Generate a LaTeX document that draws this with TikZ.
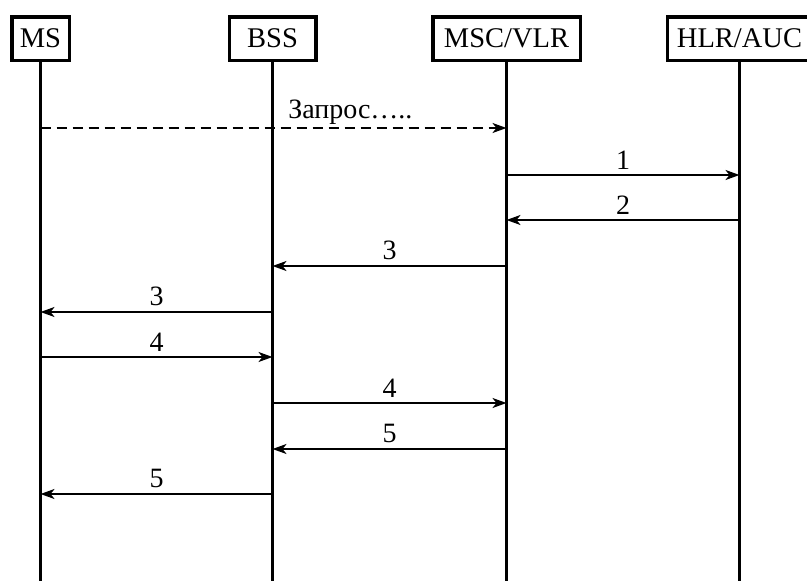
\documentclass[tikz,border=0pt]{standalone}
\usepackage{fontspec}
\setmainfont{Liberation Serif}
\usetikzlibrary{arrows.meta, positioning}
\tikzstyle{actor}    = [rectangle, draw=black, line width=3.5pt, fill=white,
                        minimum height=43.5pt, inner sep=0pt,
                        font=\fontsize{28.5}{30}\selectfont]
\tikzstyle{lifeline} = [line width=3.2pt]
\tikzstyle{msg}      = [line width=2pt, -{Stealth[length=14pt,width=10pt,inset=4pt]}]
\tikzstyle{lbl}      = [font=\fontsize{28}{30}\selectfont, above, inner sep=5pt]

\begin{document}
\begin{tikzpicture}[x=1pt, y=-1pt]
  \useasboundingbox (0,0) rectangle (807,581);

  \node[actor, minimum width=57.5pt] (ms) at (40.5,38.5) {MS};
  \node[actor, minimum width=86.5pt,  right=156.5pt of ms]  (bss) {BSS};
  \node[actor, minimum width=147.5pt, right=113.5pt of bss] (msc) {MSC/VLR};
  \node[actor, minimum width=144.5pt, right=83.5pt of msc]  (hlr) {HLR/AUC};

  \draw[lifeline] (ms.south)  -- (ms  |- 0,581);
  \draw[lifeline] (bss.south) -- (bss |- 0,581);
  \draw[lifeline] (msc.south) -- (msc |- 0,581);
  \draw[lifeline] (hlr.south) -- (hlr |- 0,581);

  \draw[msg, dash pattern=on 10pt off 6pt]
        (ms |- 0,128) -- node[lbl, pos=0.665, inner sep=3pt] {Запрос…..} (msc |- 0,128);
  \draw[msg] (msc |- 0,175) -- node[lbl] {1} (hlr |- 0,175);
  \draw[msg] (hlr |- 0,220) -- node[lbl] {2} (msc |- 0,220);
  \draw[msg] (msc |- 0,266) -- node[lbl] {3} (bss |- 0,266);
  \draw[msg] (bss |- 0,312) -- node[lbl] {3} (ms  |- 0,312);
  \draw[msg] (ms  |- 0,357) -- node[lbl] {4} (bss |- 0,357);
  \draw[msg] (bss |- 0,403) -- node[lbl] {4} (msc |- 0,403);
  \draw[msg] (msc |- 0,449) -- node[lbl] {5} (bss |- 0,449);
  \draw[msg] (bss |- 0,494) -- node[lbl] {5} (ms  |- 0,494);
\end{tikzpicture}
\end{document}
